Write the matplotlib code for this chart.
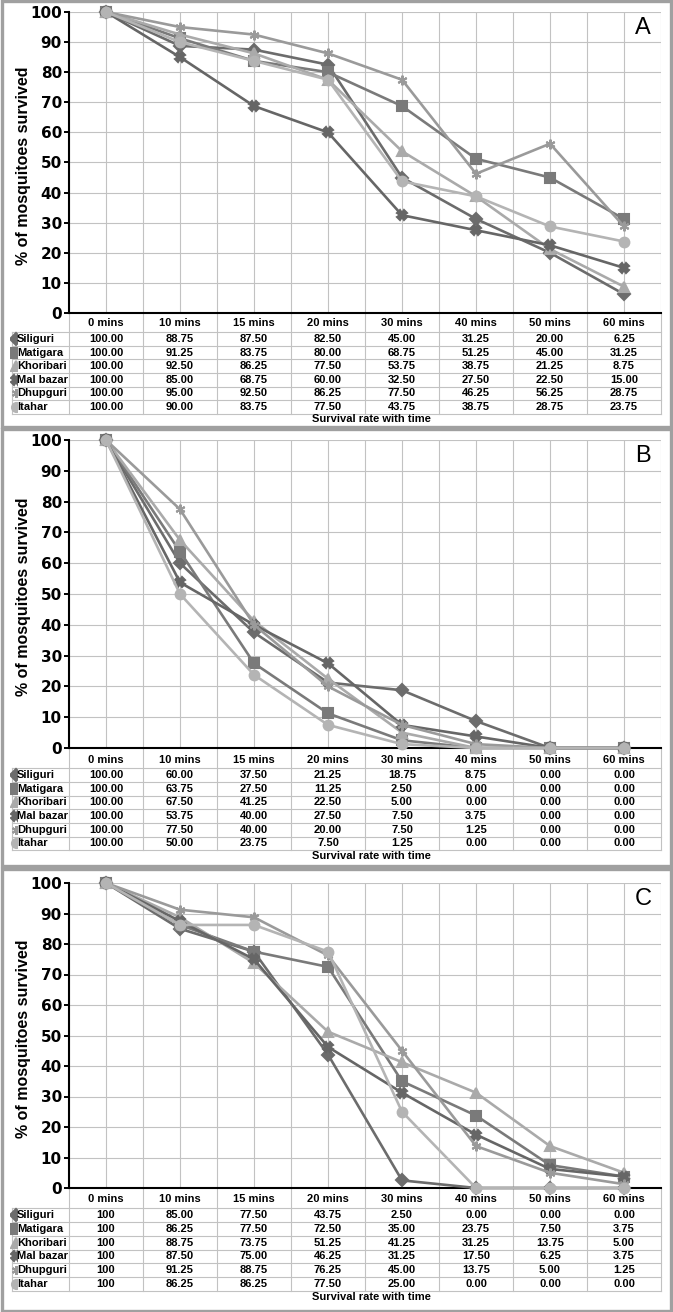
import numpy as np
import matplotlib.pyplot as plt
from matplotlib.patches import Rectangle
from matplotlib.transforms import blended_transform_factory, Bbox, TransformedBbox

plt.rcParams['font.family'] = ['Liberation Sans', 'DejaVu Sans']

times = ['0 mins', '10 mins', '15 mins', '20 mins', '30 mins', '40 mins', '50 mins', '60 mins']
sites = ['Siliguri', 'Matigara', 'Khoribari', 'Mal bazar', 'Dhupguri', 'Itahar']

# % survived, one row per site
surv_a = [[100, 88.75, 87.50, 82.50, 45.00, 31.25, 20.00, 6.25],
          [100, 91.25, 83.75, 80.00, 68.75, 51.25, 45.00, 31.25],
          [100, 92.50, 86.25, 77.50, 53.75, 38.75, 21.25, 8.75],
          [100, 85.00, 68.75, 60.00, 32.50, 27.50, 22.50, 15.00],
          [100, 95.00, 92.50, 86.25, 77.50, 46.25, 56.25, 28.75],
          [100, 90.00, 83.75, 77.50, 43.75, 38.75, 28.75, 23.75]]

surv_b = [[100, 60.00, 37.50, 21.25, 18.75, 8.75, 0.00, 0.00],
          [100, 63.75, 27.50, 11.25, 2.50, 0.00, 0.00, 0.00],
          [100, 67.50, 41.25, 22.50, 5.00, 0.00, 0.00, 0.00],
          [100, 53.75, 40.00, 27.50, 7.50, 3.75, 0.00, 0.00],
          [100, 77.50, 40.00, 20.00, 7.50, 1.25, 0.00, 0.00],
          [100, 50.00, 23.75, 7.50, 1.25, 0.00, 0.00, 0.00]]

surv_c = [[100, 85.00, 77.50, 43.75, 2.50, 0.00, 0.00, 0.00],
          [100, 86.25, 77.50, 72.50, 35.00, 23.75, 7.50, 3.75],
          [100, 88.75, 73.75, 51.25, 41.25, 31.25, 13.75, 5.00],
          [100, 87.50, 75.00, 46.25, 31.25, 17.50, 6.25, 3.75],
          [100, 91.25, 88.75, 76.25, 45.00, 13.75, 5.00, 1.25],
          [100, 86.25, 86.25, 77.50, 25.00, 0.00, 0.00, 0.00]]

colors = ['#6c6c6c', '#7a7a7a', '#aaaaaa', '#666666', '#9a9a9a', '#b4b4b4']
markers = ['D', 's', '^', 'X', (6, 2, 0), 'o']
msizes = [6, 7, 7, 7, 7, 7]

W, H = 673, 1312
grid_c = '#c2c2c2'

# label, data, plot top/bottom px, frame top/bottom px, header, first row, row step, caption, first col fmt
panels = [('A', surv_a, 12, 313, 1.5, 427, 10.5, 26, 13.6, 106, '{:.2f}'),
          ('B', surv_b, 440, 748, 429, 866, 12, 27, 13.7, 108, '{:.2f}'),
          ('C', surv_c, 883, 1188, 869, 1310.5, 11, 27, 13.8, 109, '{:.0f}')]

fig = plt.figure(figsize=(W / 100, H / 100), dpi=100)

for lab, data, top, bot, ftop, fbot, hdr, r0, step, cap, fmt0 in panels:
    hpx = bot - top
    wpx = 661 - 69
    ax = fig.add_axes([69 / W, 1 - bot / H, wpx / W, hpx / H])

    def fx(px):
        return (px - 69) / wpx

    def fy(off):
        return -off / hpx

    ax.set_xlim(-0.5, 7.5)
    ax.set_ylim(0, 100)
    ax.set_xticks(np.arange(-0.5, 7.51, 0.5))
    ax.set_xticklabels([])
    ax.set_yticks(range(0, 101, 10))
    ax.tick_params(axis='x', length=0)
    ax.tick_params(axis='y', length=3.6, width=1.4, pad=1.5)
    for t in ax.get_yticklabels():
        t.set_fontweight('bold')
        t.set_fontfamily('DejaVu Sans')
        t.set_fontsize(11)
    ax.grid(True, color=grid_c, lw=0.8)
    ax.set_axisbelow(True)
    for s in ['top', 'right']:
        ax.spines[s].set_visible(False)
    for s in ['left', 'bottom']:
        ax.spines[s].set_linewidth(1.5)
        ax.spines[s].set_zorder(2.5)

    x = np.arange(len(times))
    for i, site in enumerate(sites):
        ax.plot(x, data[i], color=colors[i], marker=markers[i], ms=msizes[i],
                mew=1.5, lw=1.9, clip_on=False, zorder=3 + i)

    ax.text(fx(24), 0.49, '% of mosquitoes survived', rotation=90, ha='center',
            va='center', transform=ax.transAxes, fontsize=11.5, fontweight='bold')
    ax.text(fx(643), 1 - 16 / hpx, lab, transform=ax.transAxes, fontsize=17,
            ha='center', va='center')

    # data table under the plot
    trans = blended_transform_factory(ax.transData, ax.transAxes)
    for j, t in enumerate(times):
        ax.text(j, fy(hdr), t, transform=trans, ha='center', va='center',
                fontsize=8, fontweight='bold')
    for i, site in enumerate(sites):
        yy = fy(r0 + i * step)
        m, = ax.plot([fx(16)], [yy], transform=ax.transAxes, marker=markers[i],
                     ms=6.5, mew=1.5, color=colors[i], ls='none')
        m.set_clip_box(TransformedBbox(Bbox.from_extents(fx(10), fy(120), fx(16.5), 0),
                                       ax.transAxes))
        ax.text(fx(17), yy, site, transform=ax.transAxes, ha='left', va='center',
                fontsize=8, fontweight='bold')
        for j, v in enumerate(data[i]):
            s = fmt0.format(v) if j == 0 else '{:.2f}'.format(v)
            ax.text(j, yy, s, transform=trans, ha='center', va='center',
                    fontsize=8, fontweight='bold')

    y_first = fy(r0 - step / 2)
    y_last = fy(r0 - step / 2 + 6 * step)
    for k in range(7):
        yl = fy(r0 - step / 2 + k * step)
        ax.plot([fx(12), 1], [yl, yl], transform=ax.transAxes, clip_on=False,
                color=grid_c, lw=0.8, zorder=1)
    for xb in np.arange(-0.5, 7.51, 1):
        ax.plot([xb, xb], [0, y_last], transform=trans, clip_on=False,
                color=grid_c, lw=0.8, zorder=1)
    ax.plot([fx(12), fx(12)], [y_first, y_last], transform=ax.transAxes,
            clip_on=False, color=grid_c, lw=0.8, zorder=1)

    ax.text(fx(371), fy(cap), 'Survival rate with time', transform=ax.transAxes,
            ha='center', va='center', fontsize=8, fontweight='bold')

    fig.add_artist(Rectangle((1.5 / W, 1 - fbot / H), 669 / W, (fbot - ftop) / H,
                             transform=fig.transFigure, fill=False,
                             edgecolor='#a0a0a0', lw=2.4))

plt.savefig('out.png', dpi=100)
